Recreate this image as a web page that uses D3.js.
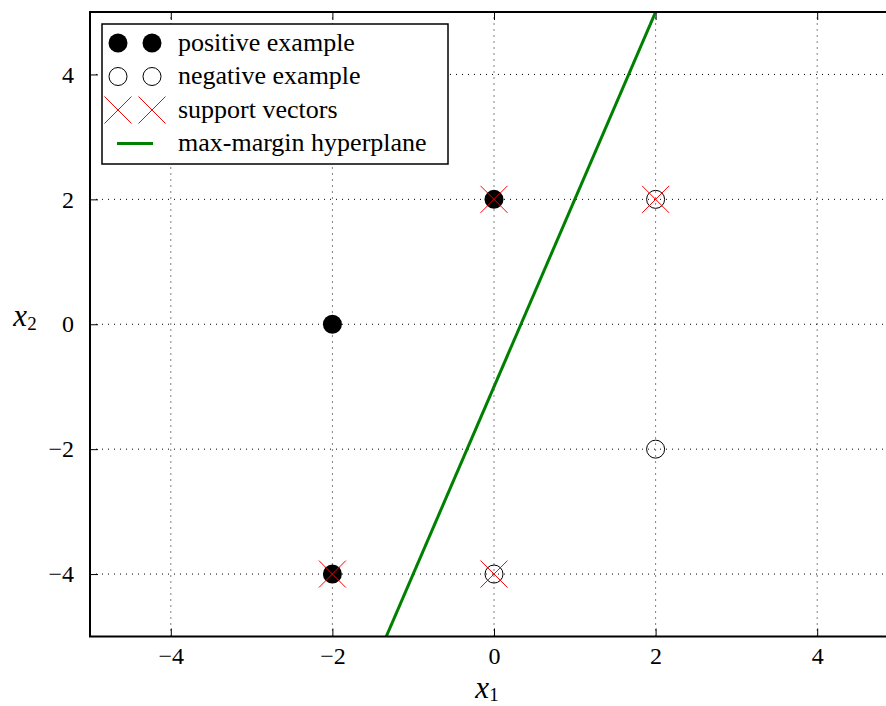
<!DOCTYPE html>
<html>
<head>
<meta charset="utf-8">
<script src="https://cdn.jsdelivr.net/npm/d3@7"></script>
<style>
  body { margin: 0; background: #fff; }
  text { font-family: "Liberation Serif", serif; fill: #000; }
</style>
</head>
<body>
<svg id="chart" width="886" height="706"></svg>
<script>
// data
const positive = [[-2, 0], [0, 2], [-2, -4]]
const negative = [[2, 2], [2, -2], [0, -4]]
const support = [[0, 2], [2, 2], [-2, -4], [0, -4]]
const hyperplane = [[-5, -16], [5, 14]]   // x2 = 3*x1 - 1
const ticks = [-4, -2, 0, 2, 4]
const legendItems = ['positive example', 'negative example', 'support vectors', 'max-margin hyperplane']

const svg = d3.select('#chart')
const x = d3.scaleLinear().domain([-5, 5]).range([90, 898])
const y = d3.scaleLinear().domain([-5, 5]).range([636.5, 12])

svg.append('clipPath').attr('id', 'clip')
    .append('rect')
    .attr('x', x(-5)).attr('y', y(5))
    .attr('width', x(5) - x(-5)).attr('height', y(-5) - y(5))

// grid
const grid = svg.append('g')
grid.selectAll('.vg').data(ticks).join('line')
    .attr('x1', d => x(d)).attr('x2', d => x(d))
    .attr('y1', y(-5)).attr('y2', y(5))
grid.selectAll('.hg').data(ticks).join('line')
    .attr('y1', d => y(d)).attr('y2', d => y(d))
    .attr('x1', x(-5)).attr('x2', x(5))
grid.selectAll('line')
    .attr('stroke', '#000').attr('stroke-width', 1)
    .attr('stroke-dasharray', '1,5')

// axes, ticks inward on all sides
const tickLen = 8
const fmt = d => d < 0 ? '\u2212' + Math.abs(d) : String(d)
const axB = d3.axisBottom(x).tickValues(ticks).tickSizeInner(-tickLen).tickSizeOuter(0).tickPadding(10).tickFormat(fmt)
const axT = d3.axisTop(x).tickValues(ticks).tickSizeInner(-tickLen).tickSizeOuter(0).tickFormat('')
const axL = d3.axisLeft(y).tickValues(ticks).tickSizeInner(-tickLen).tickSizeOuter(0).tickPadding(16).tickFormat(fmt)

function styleAxis(g) {
    g.select('.domain').remove()
    g.selectAll('.tick line').attr('stroke', '#000').attr('stroke-width', 1)
    g.selectAll('.tick text').style('font-size', '24px').attr('fill', '#000')
}
svg.append('g').attr('transform', `translate(0,${y(-5)})`).call(axB).call(styleAxis)
svg.append('g').attr('transform', `translate(0,${y(5)})`).call(axT).call(styleAxis)
svg.append('g').attr('transform', `translate(${x(-5)},0)`).call(axL).call(styleAxis)

// hyperplane
const line = d3.line().x(d => x(d[0])).y(d => y(d[1]))
svg.append('path').datum(hyperplane)
    .attr('clip-path', 'url(#clip)')
    .attr('d', line)
    .attr('fill', 'none').attr('stroke', '#008000').attr('stroke-width', 3)

// points
svg.selectAll('.pos').data(positive).join('circle')
    .attr('cx', d => x(d[0])).attr('cy', d => y(d[1]))
    .attr('r', 9.5).attr('fill', '#000')
svg.selectAll('.neg').data(negative).join('circle')
    .attr('cx', d => x(d[0])).attr('cy', d => y(d[1]))
    .attr('r', 9).attr('fill', 'none').attr('stroke', '#000').attr('stroke-width', 1)

const crossPath = s => `M${-s},${-s}L${s},${s}M${-s},${s}L${s},${-s}`
svg.selectAll('.sv').data(support).join('path')
    .attr('transform', d => `translate(${x(d[0])},${y(d[1])})`)
    .attr('d', crossPath(13.5))
    .attr('fill', 'none').attr('stroke', '#ff0000').attr('stroke-width', 1)

// frame
svg.append('rect')
    .attr('x', x(-5)).attr('y', y(5))
    .attr('width', x(5) - x(-5)).attr('height', y(-5) - y(5))
    .attr('fill', 'none').attr('stroke', '#000').attr('stroke-width', 2)

// axis labels
const xl = svg.append('text').attr('x', 487).attr('y', 698)
    .attr('text-anchor', 'middle').style('font-size', '31px')
xl.append('tspan').text('x').style('font-style', 'italic')
xl.append('tspan').text('1').attr('dy', 3).style('font-size', '19px')

const yl = svg.append('text').attr('x', 25).attr('y', 326)
    .attr('text-anchor', 'middle').style('font-size', '31px')
yl.append('tspan').text('x').style('font-style', 'italic')
yl.append('tspan').text('2').attr('dy', 4).style('font-size', '19px')

// legend
const lg = svg.append('g')
lg.append('rect').attr('x', 102).attr('y', 24).attr('width', 346).attr('height', 140)
    .attr('fill', '#fff').attr('stroke', '#000').attr('stroke-width', 1.5)
const rowY = i => 43 + i * 33.5
const mx = [118, 152]
legendItems.forEach((t, i) => {
    const row = lg.append('g').attr('transform', `translate(0,${rowY(i)})`)
    if (i === 0) mx.forEach(m => row.append('circle').attr('cx', m).attr('r', 9.5).attr('fill', '#000'))
    if (i === 1) mx.forEach(m => row.append('circle').attr('cx', m).attr('r', 9).attr('fill', 'none').attr('stroke', '#000'))
    if (i === 2) mx.forEach(m => row.append('path').attr('transform', `translate(${m},0)`)
        .attr('d', crossPath(13.5)).attr('fill', 'none').attr('stroke', '#ff0000'))
    if (i === 3) row.append('line').attr('x1', 117).attr('x2', 153)
        .attr('stroke', '#008000').attr('stroke-width', 3)
    row.append('text').attr('x', 178).attr('dy', '0.3em').style('font-size', '26px').text(t)
})
</script>
</body>
</html>
